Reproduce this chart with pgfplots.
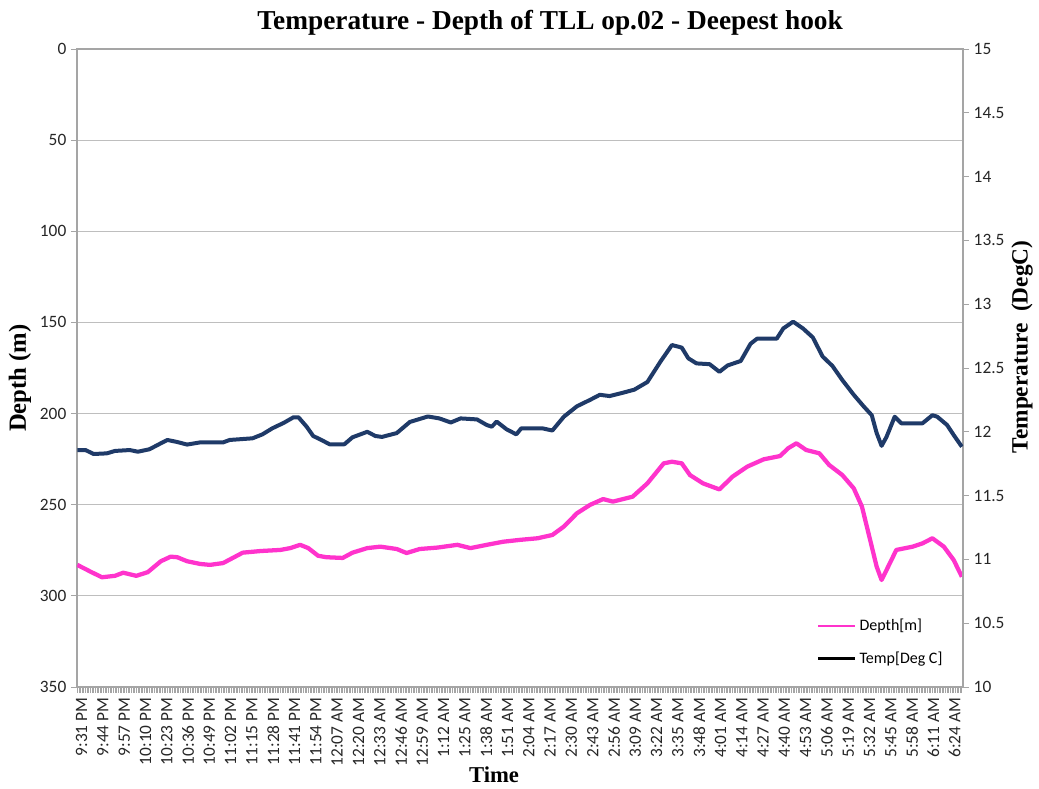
\documentclass[border=0pt]{standalone}
\usepackage{pgfplots}
\usepackage{pgfplotstable}
\pgfplotsset{compat=1.18}
\usepackage{fontspec}
\setmainfont{Carlito}
\newfontfamily\tnr{Liberation Serif}
\definecolor{depthpink}{RGB}{255,51,204}
\definecolor{tempnavy}{RGB}{31,58,104}
\definecolor{gridgray}{RGB}{190,190,190}
\definecolor{axgray}{RGB}{165,165,165}

\pgfplotstableread{
t d
-1 283
7 286.7
14 289.8
22 289
27 287.3
35 289
42 287
50 281
56 278.5
60 278.8
66 281
74 282.5
80 283
88 282
100 276.3
111 275.4
123 274.8
129 273.8
135 272
140 273.8
146 278
151 278.8
161 279.2
167 276.3
176 273.8
184 273
194 274.3
200 276.5
208 274.3
219 273.5
231 272
239 273.8
249 272
259 270.3
269 269.3
280 268.4
289 266.6
296 262
304 254.7
312 250.1
320 246.9
326 248.3
338 245.6
347 238.3
357 227.3
362 226.4
368 227.3
373 233.7
381 238.3
391 241.6
399 234.6
408 229.1
418 225.1
428 223.3
433 219
438 216.3
444 220
452 221.8
458 228.2
466 233.7
473 241
478 251
483 269.3
487 284
490 291.3
494 284
499 274.8
509 273
515 271.2
521 268.4
528 273
534 280.3
539 289.5
}\depthdata

\pgfplotstableread{
t T
-1 11.857
4 11.857
9 11.826
17 11.831
22 11.85
31 11.857
36 11.844
43 11.863
50 11.91
54 11.936
60 11.92
66 11.90
74 11.917
88 11.917
92 11.936
106 11.949
112 11.98
118 12.027
125 12.07
131 12.114
134 12.114
139 12.04
143 11.967
148 11.936
153 11.902
162 11.902
167 11.957
176 12.0
181 11.967
185 11.96
194 11.99
202 12.077
213 12.12
220 12.105
227 12.073
233 12.105
243 12.097
249 12.053
252 12.04
255 12.08
261 12.02
267 11.98
270 12.027
283 12.027
289 12.01
296 12.118
304 12.2
312 12.25
318 12.29
324 12.28
332 12.306
339 12.33
347 12.39
355 12.55
362 12.68
368 12.66
372 12.576
377 12.536
385 12.53
391 12.47
396 12.52
404 12.555
410 12.69
414 12.73
426 12.73
430 12.81
436 12.863
442 12.81
448 12.74
454 12.59
460 12.516
466 12.406
473 12.29
479 12.2
484 12.13
487 11.99
490 11.89
493 11.96
498 12.118
502 12.067
515 12.067
521 12.13
524 12.118
530 12.053
534 11.975
539 11.883
}\tempdata

\begin{document}
\begin{tikzpicture}
\pgfplotsset{
  common/.style={
    at={(0pt,0pt)}, anchor=south west,
    scale only axis, width=664.5pt, height=478.5pt,
    xmin=-1.2, xmax=539.7,
    tick align=outside,
    major tick length=4.5pt, minor tick length=4.5pt,
    tick style={axgray, line width=0.6pt},
    axis line style={axgray, line width=0.8pt},
    tick label style={font=\fontsize{13}{15}\selectfont, text=black!85},
    /pgf/number format/assume math mode=true,
  }
}
\begin{axis}[common,
  ymin=0, ymax=350, y dir=reverse,
  ytick={0,50,...,350},
  ymajorgrids, grid style={gridgray, line width=0.9pt},
  ytick pos=left, xtick pos=bottom,
  xtick={0,13,...,533},
  xticklabels={9:31 PM,9:44 PM,9:57 PM,10:10 PM,10:23 PM,10:36 PM,10:49 PM,11:02 PM,11:15 PM,11:28 PM,11:41 PM,11:54 PM,12:07 AM,12:20 AM,12:33 AM,12:46 AM,12:59 AM,1:12 AM,1:25 AM,1:38 AM,1:51 AM,2:04 AM,2:17 AM,2:30 AM,2:43 AM,2:56 AM,3:09 AM,3:22 AM,3:35 AM,3:48 AM,4:01 AM,4:14 AM,4:27 AM,4:40 AM,4:53 AM,5:06 AM,5:19 AM,5:32 AM,5:45 AM,5:58 AM,6:11 AM,6:24 AM},
  minor xtick={-1,0,...,539},
  xticklabel style={rotate=90, anchor=east, yshift=-2pt},
  title={Temperature - Depth of TLL op.02 - Deepest hook},
  title style={font=\tnr\bfseries\fontsize{20.5}{24}\selectfont, at={(axis description cs:0.534,1)}, anchor=center, yshift=13.5pt},
  ylabel={Depth (m)},
  ylabel style={font=\tnr\bfseries\fontsize{18.5}{22}\selectfont, at={(axis description cs:-0.0643,0.484)}, anchor=center},
  xlabel={Time},
  xlabel style={font=\tnr\bfseries\fontsize{17}{20}\selectfont, at={(axis description cs:0.4707,-0.138)}, anchor=center},
]
\addplot[depthpink, line width=3.2pt, line join=round] table[x=t, y=d] {\depthdata};
\end{axis}
\begin{axis}[common,
  ymin=10, ymax=15,
  hide x axis,
  axis y line*=right,
  ytick={10,10.5,...,15},
  ylabel={Temperature\ \ (DegC)},
  ylabel style={font=\tnr\bfseries\fontsize{17.5}{21}\selectfont, at={(axis description cs:1.0666,0.533)}, anchor=center},
  legend style={draw=none, fill=none, at={(axis description cs:0.83,0.115)}, anchor=north west, font=\fontsize{12}{14}\selectfont, row sep=10pt},
  legend cell align=left,
  legend image code/.code={\draw[#1] (0pt,0pt) -- (28pt,0pt);},
]
\addlegendimage{depthpink, line width=2.2pt}
\addlegendentry{Depth[m]}
\addplot[tempnavy, line width=3pt, line join=round, forget plot] table[x=t, y=T] {\tempdata};
\addlegendimage{black, line width=2.2pt}
\addlegendentry{Temp[Deg C]}
\end{axis}
\pgfresetboundingbox
\path[use as bounding box] (-57.75pt,-76.5pt) rectangle (721.5pt,515.25pt);
\end{tikzpicture}
\end{document}
